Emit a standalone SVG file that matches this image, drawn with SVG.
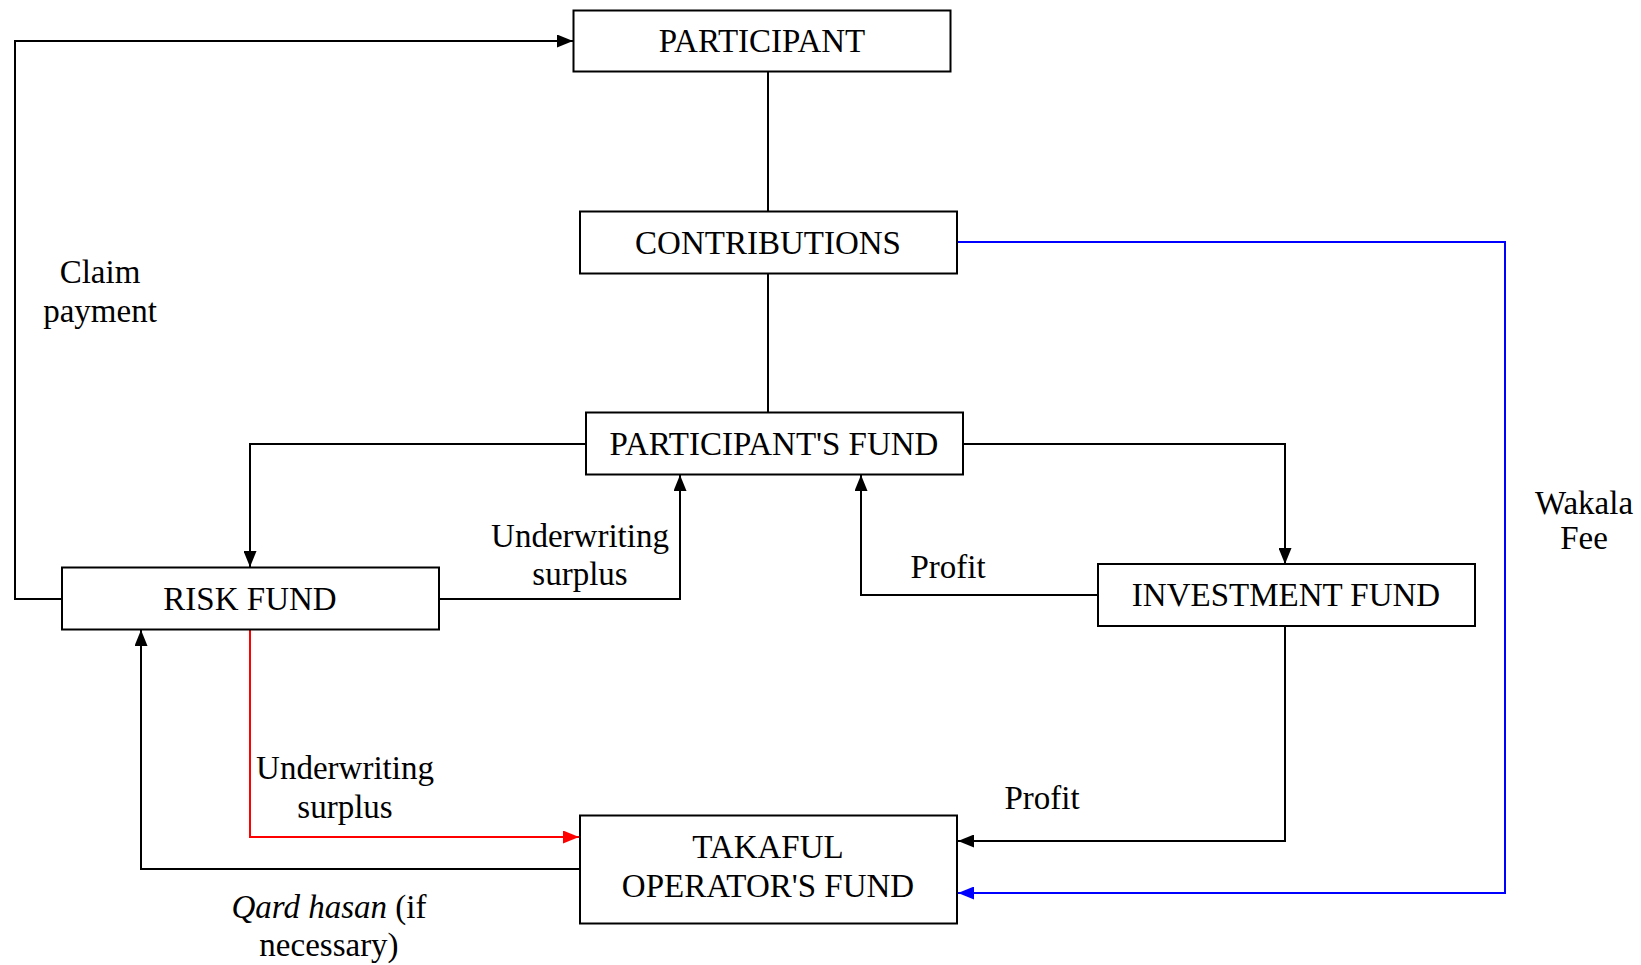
<svg xmlns="http://www.w3.org/2000/svg" width="1641" height="965" viewBox="0 0 1641 965">
<style>
.box{fill:#fff;stroke:#000;stroke-width:2}
.t{font-family:"Liberation Serif","Times New Roman",serif;font-size:33px;fill:#000;text-anchor:middle}
.c{fill:none;stroke:#000;stroke-width:2}
.blue{stroke:#0000ff}
.red{stroke:#ff0000}
</style>
<defs>
<marker id="ab" viewBox="0 0 16 13" refX="16" refY="6.5" markerWidth="16" markerHeight="13" markerUnits="userSpaceOnUse" orient="auto"><path d="M0,0L16,6.5L0,13Z" fill="#000"/></marker>
<marker id="abl" viewBox="0 0 16 13" refX="16" refY="6.5" markerWidth="16" markerHeight="13" markerUnits="userSpaceOnUse" orient="auto"><path d="M0,0L16,6.5L0,13Z" fill="#0000ff"/></marker>
<marker id="ar" viewBox="0 0 16 13" refX="16" refY="6.5" markerWidth="16" markerHeight="13" markerUnits="userSpaceOnUse" orient="auto"><path d="M0,0L16,6.5L0,13Z" fill="#ff0000"/></marker>
</defs>
<rect width="1641" height="965" fill="#fff"/>
<g id="connectors">
<path class="c" d="M768,71V211"/>
<path class="c" d="M768,273V412"/>
<path class="c blue" d="M957,242H1505V893H958" marker-end="url(#abl)"/>
<path class="c" d="M62,599H15V41H573" marker-end="url(#ab)"/>
<path class="c" d="M586,444H250V567" marker-end="url(#ab)"/>
<path class="c" d="M963,444H1285V564" marker-end="url(#ab)"/>
<path class="c" d="M439,599H680V475" marker-end="url(#ab)"/>
<path class="c" d="M1098,595H861V475" marker-end="url(#ab)"/>
<path class="c" d="M1285,626V841H958" marker-end="url(#ab)"/>
<path class="c red" d="M250,629V837H579" marker-end="url(#ar)"/>
<path class="c" d="M580,869H141V630" marker-end="url(#ab)"/>
</g>
<g id="labels">
<text class="t" x="100" y="283">Claim</text>
<text class="t" x="100" y="322">payment</text>
<text class="t" x="580" y="547">Underwriting</text>
<text class="t" x="580" y="585">surplus</text>
<text class="t" x="948" y="578">Profit</text>
<text class="t" x="1584" y="514">Wakala</text>
<text class="t" x="1584" y="549">Fee</text>
<text class="t" x="345" y="779">Underwriting</text>
<text class="t" x="345" y="818">surplus</text>
<text class="t" x="1042" y="809">Profit</text>
<text class="t" x="329" y="918"><tspan font-style="italic">Qard hasan</tspan> (if</text>
<text class="t" x="329" y="956">necessary)</text>
</g>
<g id="participant"><rect class="box" x="573.5" y="10.5" width="377" height="61"/><text class="t" x="762" y="52">PARTICIPANT</text></g>
<g id="contributions"><rect class="box" x="580" y="211.5" width="377" height="62"/><text class="t" x="768" y="254">CONTRIBUTIONS</text></g>
<g id="participants-fund"><rect class="box" x="586" y="412.5" width="377" height="62"/><text class="t" x="774" y="455">PARTICIPANT'S FUND</text></g>
<g id="risk-fund"><rect class="box" x="62" y="567.5" width="377" height="62"/><text class="t" x="250" y="610">RISK FUND</text></g>
<g id="investment-fund"><rect class="box" x="1098" y="564" width="377" height="62"/><text class="t" x="1286" y="606">INVESTMENT FUND</text></g>
<g id="takaful-operators-fund"><rect class="box" x="580" y="815.5" width="377" height="108"/><text class="t" x="768" y="858">TAKAFUL</text><text class="t" x="768" y="897">OPERATOR'S FUND</text></g>
</svg>
